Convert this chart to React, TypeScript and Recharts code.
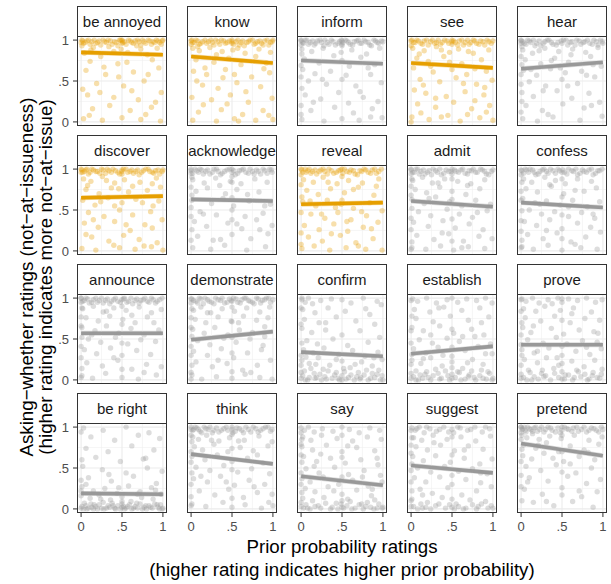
import React from 'react';
import { ComposedChart, Scatter, Line, Area, XAxis, YAxis, ReferenceLine } from 'recharts';

const FONT = '"Liberation Sans", Arial, Helvetica, sans-serif';
const ORANGE = '#E69F00';
const GREY = '#999999';

// facet order (row by row)
const predicates = [
    'be annoyed', 'know', 'inform', 'see', 'hear',
    'discover', 'acknowledge', 'reveal', 'admit', 'confess',
    'announce', 'demonstrate', 'confirm', 'establish', 'prove',
    'be right', 'think', 'say', 'suggest', 'pretend',
];
const factive = ['be annoyed', 'know', 'see', 'discover', 'reveal'];

// fitted line at prior = 0 and prior = 1
const fitAt0 = [0.85, 0.80, 0.75, 0.72, 0.65, 0.65, 0.63, 0.57, 0.61, 0.59, 0.57, 0.49, 0.34, 0.32, 0.43, 0.19, 0.67, 0.40, 0.53, 0.80];
const fitAt1 = [0.82, 0.72, 0.71, 0.66, 0.73, 0.67, 0.61, 0.59, 0.54, 0.53, 0.57, 0.59, 0.29, 0.41, 0.43, 0.18, 0.55, 0.29, 0.44, 0.65];
const ciHalf = 0.03;

const yTicks = [0, 0.5, 1];
const xTicks = [0, 0.5, 1];
const tickText = (v: number) => (v === 0 ? '0' : v === 1 ? '1' : '.5');

// ratings in percent, flat pairs: prior, asking-whether
const ptsBeAnnoyed = [2,99, 5,97, 9,100, 13,98, 18,96, 22,99, 27,100, 31,97, 36,99, 41,98, 47,100, 50,99, 50,96, 53,98, 58,100, 62,97, 66,99, 71,98, 75,100, 79,96, 84,99, 88,98, 92,100, 96,97, 99,99, 1,93, 15,91, 34,92, 49,89, 68,93, 93,90, 4,84, 24,80, 57,85, 81,82, 11,74, 45,71, 87,76, 6,63, 30,58, 64,61, 95,66, 19,47, 52,44, 77,50, 8,33, 40,30, 70,27, 98,36, 14,16, 35,20, 60,14, 86,18, 3,4, 26,2, 50,5, 73,3, 97,1,
    3,96, 7,99, 11,95, 16,100, 20,97, 24,94, 29,98, 33,100, 38,95, 43,97, 45,93, 48,100, 51,97, 55,95, 60,99, 64,96, 69,100, 73,94, 77,98, 82,100, 86,95, 90,97, 94,99, 98,95, 0,97, 1,100, 100,100, 50,100, 12,88, 40,86, 73,89, 28,67, 56,73, 82,58, 2,40, 46,55, 91,24, 23,36, 62,38, 10,8, 79,9];
const ptsKnow = [1,100, 4,97, 8,99, 12,96, 17,100, 21,98, 26,97, 30,100, 35,95, 40,99, 44,97, 50,100, 50,96, 55,98, 59,94, 63,99, 68,97, 72,100, 77,95, 81,98, 86,96, 90,99, 95,94, 99,98, 2,90, 10,87, 23,91, 38,86, 51,88, 66,84, 83,89, 97,85, 6,76, 28,73, 46,78, 61,70, 92,72, 3,62, 19,58, 42,64, 74,55, 96,60, 14,45, 33,41, 56,48, 85,43, 1,30, 25,27, 48,33, 70,24, 99,29, 9,12, 37,15, 63,9, 88,14, 2,2, 31,1, 53,4, 79,2, 100,3,
    2,97, 6,100, 10,95, 14,98, 19,96, 24,100, 28,94, 33,98, 37,100, 42,96, 47,99, 52,95, 57,100, 61,97, 65,93, 70,98, 75,100, 79,96, 84,99, 88,94, 93,100, 97,97, 0,99, 0,95, 50,98, 100,100, 8,92, 31,82, 57,90, 79,80, 17,66, 53,58, 89,65, 7,50, 39,54, 67,37, 15,21, 44,22, 95,8, 58,1];
const ptsInform = [0,99, 3,96, 7,100, 11,97, 16,94, 20,99, 25,97, 29,100, 34,95, 39,98, 45,96, 49,100, 51,97, 50,93, 56,99, 60,95, 65,98, 70,100, 74,96, 79,98, 84,94, 89,100, 93,97, 98,99, 1,89, 13,86, 27,90, 49,85, 62,88, 80,83, 96,90, 4,77, 22,72, 50,75, 73,79, 90,70, 2,64, 17,59, 36,62, 55,57, 82,66, 9,50, 31,46, 50,52, 67,44, 98,48, 5,33, 24,28, 46,36, 76,30, 94,25, 12,14, 41,18, 64,11, 87,16, 1,3, 28,1, 50,4, 71,2, 99,5,
    2,97, 5,100, 9,95, 14,99, 18,96, 23,100, 28,93, 32,97, 37,100, 42,94, 47,98, 50,99, 50,95, 54,100, 58,97, 63,94, 68,99, 72,96, 77,100, 82,97, 86,93, 91,99, 95,96, 100,98, 0,100, 0,94, 1,83, 0,69, 0,55, 1,41, 0,20, 0,9, 40,81, 59,68, 85,58, 26,52, 72,37, 15,24, 58,23, 85,6];
const ptsSee = [1,100, 5,97, 9,99, 14,95, 19,100, 24,98, 29,96, 33,100, 38,97, 44,99, 50,100, 50,95, 54,97, 59,99, 64,94, 69,100, 73,97, 78,99, 83,95, 88,98, 93,100, 98,96, 2,90, 16,87, 31,92, 47,85, 58,89, 76,84, 95,88, 7,78, 21,74, 40,80, 62,71, 86,76, 3,66, 27,61, 50,64, 68,58, 92,62, 11,52, 35,49, 55,54, 80,46, 99,51, 4,39, 18,35, 43,31, 66,37, 89,33, 8,22, 30,18, 52,24, 74,16, 96,20, 1,6, 22,3, 45,8, 60,1, 84,5, 100,2,
    3,97, 7,100, 12,96, 16,99, 21,94, 26,100, 31,97, 36,95, 41,100, 46,96, 52,99, 57,94, 62,100, 66,97, 71,95, 76,100, 80,96, 85,99, 90,94, 95,98, 0,99, 0,93, 100,99, 50,98, 10,83, 37,88, 70,86, 24,68, 47,73, 78,65, 15,45, 64,47, 90,42, 30,29, 78,26, 12,11, 37,6, 69,9, 92,12, 0,0];
const ptsHear = [0,99, 4,96, 8,100, 12,97, 17,93, 22,99, 27,96, 32,100, 37,97, 43,94, 49,99, 50,96, 55,100, 60,97, 66,94, 71,99, 76,97, 81,100, 87,95, 92,98, 97,100, 100,96, 2,88, 14,84, 29,90, 46,86, 63,89, 79,85, 94,91, 5,76, 24,71, 41,78, 58,73, 85,80, 3,63, 19,57, 36,65, 54,60, 74,62, 98,68, 10,49, 30,44, 50,52, 69,47, 90,55, 1,36, 15,31, 44,38, 62,29, 83,35, 6,20, 26,14, 51,22, 77,17, 96,24, 2,4, 20,1, 39,6, 72,2, 99,7,
    2,98, 6,95, 10,99, 15,100, 19,96, 24,93, 29,98, 34,100, 39,95, 45,97, 52,100, 57,94, 62,98, 68,100, 73,95, 78,98, 84,96, 89,100, 94,94, 99,98, 0,100, 0,96, 1,92, 0,80, 1,70, 0,58, 0,46, 1,25, 0,12, 22,87, 37,75, 61,82, 88,70, 12,64, 48,66, 80,57, 27,38, 57,44, 86,20, 33,9];
const ptsDiscover = [1,99, 4,97, 7,100, 11,96, 15,99, 20,97, 25,100, 30,95, 34,98, 39,100, 45,96, 50,99, 50,94, 55,100, 60,97, 64,95, 69,99, 74,96, 79,100, 84,97, 89,95, 94,99, 99,97, 3,88, 12,85, 26,91, 41,83, 53,87, 72,84, 92,89, 6,75, 22,70, 37,77, 58,72, 81,74, 97,78, 2,62, 17,56, 33,65, 50,59, 67,63, 88,55, 9,47, 28,42, 47,50, 63,44, 85,48, 4,34, 21,29, 41,36, 60,25, 78,32, 99,38, 13,17, 34,12, 52,19, 71,14, 93,10, 1,3, 18,1, 47,4, 66,2, 86,5, 100,1,
    2,96, 6,99, 9,94, 13,100, 18,97, 23,95, 27,99, 32,100, 37,96, 42,98, 47,94, 52,100, 57,96, 62,99, 67,97, 71,93, 76,98, 82,100, 87,96, 91,98, 96,94, 0,100, 0,96, 100,99, 50,97, 8,80, 31,86, 46,76, 63,79, 87,82, 24,60, 41,55, 75,59, 95,61, 15,38, 55,32, 87,28, 6,20, 40,7, 77,6];
const ptsAcknowledge = [0,98, 5,100, 9,96, 13,99, 18,97, 23,94, 28,100, 33,97, 38,95, 44,99, 50,100, 50,96, 54,93, 59,98, 64,100, 70,95, 75,97, 80,99, 85,94, 90,98, 96,100, 99,96, 2,87, 16,83, 30,89, 48,85, 61,82, 78,88, 93,84, 6,73, 20,77, 42,70, 56,75, 83,72, 1,62, 25,58, 39,64, 52,55, 71,61, 97,57, 11,48, 31,44, 50,50, 66,42, 88,46, 4,36, 19,30, 45,34, 62,27, 80,38, 99,31, 8,18, 27,13, 50,20, 73,15, 94,21, 2,4, 24,2, 41,7, 68,1, 91,5,
    2,95, 7,98, 11,100, 15,94, 20,99, 26,96, 31,100, 36,93, 41,97, 47,100, 52,98, 57,95, 62,99, 67,96, 72,100, 77,94, 82,97, 88,100, 93,95, 98,99, 0,100, 0,95, 1,90, 0,78, 1,68, 0,53, 0,42, 1,26, 0,13, 50,91, 50,84, 50,65, 50,38, 35,80, 69,69, 90,55, 15,45, 56,33, 84,26, 36,14];
const ptsReveal = [1,99, 6,96, 10,100, 14,97, 19,94, 24,99, 29,97, 34,100, 40,95, 46,98, 50,100, 51,95, 56,97, 61,99, 66,94, 72,98, 77,100, 82,96, 87,99, 92,95, 98,100, 3,87, 15,84, 27,90, 44,82, 58,86, 75,83, 95,88, 7,74, 21,69, 36,76, 53,71, 70,78, 89,68, 2,60, 18,55, 32,62, 49,57, 64,52, 84,59, 12,45, 29,40, 45,47, 61,38, 80,43, 99,49, 4,31, 22,26, 40,33, 57,24, 76,29, 94,35, 9,17, 26,12, 48,19, 67,10, 88,15, 1,3, 16,6, 35,1, 55,4, 79,2, 99,1,
    2,96, 5,100, 8,98, 12,95, 17,99, 22,97, 27,100, 32,94, 37,98, 43,96, 48,99, 53,100, 59,96, 64,98, 69,93, 74,97, 79,99, 85,95, 90,100, 95,97, 0,100, 0,93, 0,81, 1,66, 0,47, 0,22, 0,8, 50,91, 50,62, 33,84, 64,75, 92,79, 11,61, 42,53, 74,48, 25,45, 56,36, 86,27, 37,21, 70,6];
const ptsAdmit = [0,99, 4,96, 8,100, 12,97, 17,94, 22,98, 27,100, 32,96, 37,93, 43,99, 49,97, 50,100, 50,94, 55,97, 61,99, 66,95, 71,98, 76,100, 81,96, 87,99, 92,94, 98,97, 2,86, 14,90, 26,83, 41,88, 57,85, 73,82, 90,87, 5,75, 19,71, 35,78, 50,73, 67,69, 84,76, 1,63, 16,58, 30,66, 47,60, 62,55, 79,62, 97,57, 9,48, 24,43, 44,51, 59,45, 75,41, 93,49, 3,35, 21,30, 39,37, 54,28, 71,33, 88,26, 7,19, 28,14, 46,21, 64,12, 83,18, 99,15, 1,4, 18,2, 36,6, 52,1, 70,5, 90,3,
    2,96, 6,100, 10,94, 15,99, 20,96, 25,93, 30,98, 35,100, 40,95, 46,97, 53,99, 58,96, 63,100, 69,94, 74,98, 79,96, 85,100, 90,97, 95,93, 100,99, 0,100, 0,94, 1,88, 0,79, 0,68, 1,52, 0,40, 0,26, 1,11, 0,2, 50,88, 50,63, 50,39, 50,12, 33,83, 69,80, 22,64, 81,47, 38,22, 62,4];
const ptsConfess = [1,98, 5,100, 9,96, 14,99, 18,93, 23,97, 28,100, 33,95, 39,98, 45,100, 50,96, 51,99, 56,94, 62,98, 67,100, 72,95, 77,97, 83,99, 88,93, 94,98, 99,100, 3,88, 13,84, 29,90, 42,86, 54,82, 69,88, 86,85, 6,76, 20,72, 37,79, 52,70, 66,74, 92,77, 2,64, 17,59, 31,61, 48,56, 63,62, 81,54, 96,60, 10,50, 25,45, 41,48, 58,42, 74,47, 90,40, 4,36, 19,31, 35,38, 50,27, 69,34, 85,29, 8,20, 27,15, 44,22, 61,11, 79,17, 97,23, 1,5, 15,2, 33,7, 50,1, 73,4, 93,2,
    3,95, 7,99, 11,100, 16,96, 21,94, 26,99, 31,97, 36,100, 42,95, 47,98, 53,96, 58,100, 64,97, 69,93, 75,99, 80,96, 86,100, 91,95, 96,98, 0,99, 0,93, 1,84, 0,73, 0,62, 1,49, 0,37, 0,24, 1,13, 0,4, 50,88, 50,66, 50,44, 50,15, 35,81, 77,73, 23,57, 58,54, 88,45, 31,25, 66,8];
const ptsAnnounce = [0,100, 4,97, 8,99, 13,95, 18,100, 22,97, 27,94, 32,99, 37,96, 42,100, 48,95, 50,98, 53,100, 58,96, 63,93, 68,99, 73,97, 78,100, 83,95, 88,98, 93,96, 99,100, 2,87, 15,90, 27,83, 40,88, 55,85, 71,89, 86,82, 98,86, 6,76, 21,72, 35,78, 51,74, 66,70, 81,77, 1,64, 17,60, 31,66, 46,57, 61,63, 77,55, 95,61, 9,50, 24,46, 42,52, 57,44, 73,49, 91,47, 4,37, 19,32, 36,39, 50,30, 68,36, 85,31, 7,21, 26,17, 45,24, 62,13, 80,19, 98,16, 1,5, 14,2, 30,8, 50,3, 70,1, 92,6,
    2,96, 6,100, 10,94, 15,98, 20,95, 25,100, 30,97, 35,93, 40,98, 45,96, 52,99, 56,95, 61,100, 66,97, 71,94, 76,98, 81,96, 86,100, 91,94, 96,98, 0,100, 0,95, 1,88, 0,77, 0,66, 1,52, 0,41, 0,27, 1,14, 0,3, 50,90, 50,68, 50,45, 50,13, 31,84, 62,79, 89,70, 13,55, 40,27, 77,9];
const ptsDemonstrate = [1,99, 6,96, 10,100, 15,93, 20,98, 25,95, 30,100, 36,97, 41,94, 47,99, 50,96, 52,100, 57,95, 62,98, 67,100, 72,96, 77,93, 82,99, 87,97, 92,100, 97,95, 100,98, 3,85, 12,89, 24,82, 38,87, 53,84, 68,88, 84,83, 96,89, 5,74, 18,70, 33,77, 49,72, 64,78, 80,73, 94,76, 2,62, 16,57, 29,64, 45,55, 59,61, 75,58, 90,65, 8,48, 23,43, 40,51, 55,46, 72,50, 88,42, 3,35, 20,30, 37,38, 52,27, 69,33, 86,37, 6,22, 26,16, 44,20, 63,12, 81,18, 97,24, 1,6, 13,1, 31,4, 50,2, 66,7, 84,3, 99,1,
    3,97, 8,94, 12,99, 17,100, 22,96, 28,93, 33,98, 38,100, 44,95, 49,97, 55,99, 60,94, 65,100, 70,97, 75,95, 80,100, 85,94, 90,98, 95,100, 0,99, 0,94, 1,87, 0,76, 0,64, 1,53, 0,41, 0,30, 1,18, 0,9, 0,1, 50,89, 50,71, 50,52, 50,33, 50,10, 20,82, 58,70, 90,53, 33,24, 73,9];
const ptsConfirm = [1,98, 5,95, 9,100, 14,93, 24,97, 37,99, 50,98, 61,94, 76,100, 93,96, 98,92, 2,86, 17,82, 33,88, 54,84, 79,87, 4,74, 22,70, 43,77, 67,72, 90,68, 1,63, 13,58, 30,61, 50,55, 72,60, 96,52, 7,48, 20,44, 39,50, 57,42, 82,46, 3,37, 15,33, 28,39, 46,31, 63,36, 78,29, 94,34, 1,24, 10,20, 21,27, 35,18, 50,23, 60,15, 74,22, 87,17, 99,25, 4,11, 16,8, 27,13, 41,6, 53,10, 68,4, 80,12, 93,7, 0,2, 8,0, 19,3, 31,1, 45,2, 50,0, 58,3, 72,1, 85,2, 97,0,
    0,9, 2,5, 5,0, 10,3, 12,14, 17,2, 23,7, 25,0, 29,4, 33,11, 38,2, 43,9, 47,0, 50,5, 52,14, 55,1, 61,6, 65,0, 70,9, 73,3, 77,6, 82,0, 87,8, 90,3, 95,12, 99,5, 100,0, 0,30, 1,45, 0,18, 0,68, 0,88, 1,100, 6,28, 18,19, 43,25, 66,19, 89,27, 30,70, 84,80];
const ptsEstablish = [2,99, 8,96, 19,100, 31,94, 44,98, 50,100, 57,95, 68,99, 80,97, 91,100, 99,94, 4,86, 23,83, 40,89, 62,85, 84,88, 6,75, 27,71, 48,78, 70,73, 95,77, 1,64, 15,60, 35,66, 52,57, 74,62, 89,55, 10,49, 26,45, 44,51, 59,47, 78,53, 97,44, 3,38, 18,33, 33,40, 50,29, 66,36, 82,41, 99,32, 1,24, 12,20, 24,27, 38,17, 50,22, 63,14, 75,25, 88,19, 6,11, 17,7, 30,13, 45,5, 57,10, 71,6, 86,12, 96,8, 0,2, 9,0, 21,3, 35,1, 50,2, 61,0, 77,3, 92,1, 100,2,
    0,8, 3,4, 6,0, 11,6, 14,2, 19,10, 24,0, 27,5, 33,8, 37,2, 42,11, 47,0, 50,7, 54,3, 59,9, 66,1, 70,4, 74,11, 79,0, 84,5, 88,2, 94,10, 99,0, 0,19, 1,31, 0,45, 0,60, 1,78, 0,97, 50,15, 50,40, 50,62, 15,26, 39,30, 69,21, 91,32, 24,55, 63,53, 86,70, 34,88];
const ptsProve = [1,99, 6,96, 14,100, 22,94, 33,98, 45,100, 50,95, 58,99, 69,97, 80,100, 91,95, 99,98, 3,87, 18,84, 29,90, 48,85, 64,88, 86,83, 5,76, 24,72, 41,78, 60,70, 78,75, 96,73, 2,64, 12,58, 37,63, 52,56, 71,61, 89,59, 8,49, 27,45, 43,52, 56,44, 75,48, 93,46, 1,37, 16,33, 34,39, 50,30, 67,35, 84,31, 98,38, 4,25, 20,21, 31,27, 46,18, 62,23, 77,16, 90,24, 9,12, 25,8, 40,14, 54,6, 70,10, 87,5, 99,13, 0,2, 13,0, 28,4, 50,1, 65,3, 81,0, 96,2,
    0,7, 3,3, 7,0, 11,9, 16,4, 21,1, 26,12, 30,5, 36,0, 41,8, 46,3, 50,10, 53,1, 58,6, 63,0, 68,12, 73,4, 78,7, 83,1, 88,9, 93,3, 98,7, 0,18, 1,30, 0,43, 0,55, 1,70, 0,84, 0,98, 50,20, 50,41, 50,73, 50,99, 20,35, 44,27, 80,40, 15,66, 62,81, 94,57, 38,93];
const ptsBeRight = [3,99, 27,96, 55,100, 83,93, 12,88, 41,84, 70,90, 96,86, 6,74, 33,70, 62,77, 89,72, 18,63, 48,58, 76,61, 2,52, 26,48, 55,44, 81,50, 99,46, 9,38, 37,34, 64,40, 92,31, 1,27, 15,22, 29,25, 44,19, 58,28, 72,21, 86,26, 0,16, 11,13, 22,17, 36,11, 50,15, 61,9, 74,14, 88,12, 98,18, 4,7, 16,5, 27,8, 39,4, 50,6, 57,3, 68,7, 79,4, 93,5, 0,1, 7,0, 13,2, 20,0, 31,1, 42,0, 50,2, 53,0, 64,1, 75,0, 85,2, 96,0, 100,1,
    1,3, 3,0, 6,4, 9,1, 12,6, 15,0, 18,3, 22,5, 25,1, 28,0, 33,4, 35,2, 38,7, 41,1, 45,4, 48,0, 50,9, 52,3, 55,1, 59,5, 62,0, 66,3, 69,1, 72,6, 77,2, 80,0, 83,4, 87,1, 90,6, 94,2, 97,5, 99,0, 0,22, 0,35, 1,60, 0,94, 6,30, 24,12, 46,26, 69,18, 91,23, 34,42, 79,62];
const ptsThink = [0,100, 3,97, 7,99, 11,95, 16,100, 21,97, 26,93, 31,99, 37,96, 43,100, 50,97, 51,93, 56,99, 62,96, 67,100, 73,94, 79,98, 85,96, 91,100, 97,95, 2,88, 9,85, 19,90, 34,83, 47,87, 65,84, 83,89, 99,82, 4,76, 14,72, 28,79, 45,70, 60,75, 76,71, 94,77, 1,64, 17,60, 32,66, 50,58, 69,62, 88,56, 6,51, 23,47, 40,53, 57,45, 74,49, 96,43, 3,37, 20,33, 36,40, 53,29, 71,35, 90,30, 10,22, 29,17, 46,24, 64,14, 81,20, 99,18, 1,6, 18,3, 39,8, 50,2, 66,5, 86,1, 100,4,
    2,96, 5,100, 9,97, 13,93, 18,98, 23,100, 28,96, 34,94, 40,98, 45,96, 50,100, 50,91, 54,95, 59,98, 64,93, 70,97, 76,100, 82,94, 88,98, 94,100, 99,97, 0,97, 0,90, 1,82, 0,70, 0,57, 1,44, 0,30, 0,15, 0,4, 50,74, 50,48, 50,13, 25,84, 58,83, 81,66, 12,40, 43,33, 77,27, 95,8];
const ptsSay = [0,99, 4,96, 9,100, 16,94, 26,98, 39,95, 50,100, 59,97, 71,93, 84,99, 96,96, 2,88, 12,84, 25,90, 44,86, 63,83, 81,88, 98,85, 1,76, 14,72, 31,78, 50,70, 68,75, 90,71, 3,64, 19,58, 36,62, 54,56, 73,60, 94,54, 6,49, 22,44, 41,51, 58,42, 77,47, 97,41, 1,37, 11,33, 27,39, 46,30, 63,35, 82,28, 99,33, 5,25, 17,21, 33,27, 50,18, 68,23, 86,16, 2,13, 14,10, 28,14, 43,7, 57,12, 74,6, 90,11, 0,3, 8,1, 21,4, 36,0, 50,2, 62,0, 79,3, 93,1, 100,2,
    0,93, 1,85, 0,79, 0,66, 1,57, 0,44, 0,30, 1,20, 0,8, 3,1, 6,5, 11,0, 17,3, 24,1, 30,7, 38,2, 45,0, 49,6, 52,1, 56,4, 60,9, 66,1, 71,5, 76,0, 81,8, 85,2, 89,0, 95,6, 99,1, 50,90, 50,63, 50,39, 50,10, 24,67, 57,77, 75,39, 93,62, 16,52, 40,22, 87,24];
const ptsSuggest = [1,99, 5,96, 10,100, 16,93, 23,98, 31,95, 40,100, 50,97, 52,93, 60,99, 69,96, 78,100, 87,94, 96,98, 3,87, 13,84, 27,90, 44,85, 61,88, 79,83, 97,89, 6,76, 20,72, 36,78, 53,71, 70,77, 88,73, 2,64, 15,59, 30,65, 48,57, 65,62, 84,55, 99,61, 8,50, 24,45, 41,52, 58,46, 75,49, 93,43, 4,38, 18,33, 35,39, 50,30, 67,36, 85,32, 11,24, 26,19, 45,26, 62,17, 80,22, 98,27, 1,12, 20,8, 38,14, 55,6, 72,11, 91,9, 0,3, 14,1, 30,4, 50,2, 64,0, 82,3, 100,1,
    0,96, 1,87, 0,78, 0,68, 1,55, 0,47, 0,33, 1,22, 0,10, 3,3, 8,0, 12,6, 18,2, 24,0, 34,6, 42,1, 47,5, 53,0, 58,3, 67,1, 75,5, 80,0, 86,6, 94,1, 98,4, 7,98, 19,100, 35,97, 46,94, 57,100, 73,97, 91,100, 50,88, 50,66, 50,41, 50,12, 28,81, 65,72, 85,44, 14,17];
const ptsPretend = [0,100, 2,98, 5,96, 8,100, 12,97, 16,99, 20,95, 25,100, 30,97, 36,99, 42,94, 50,100, 50,96, 56,98, 62,95, 68,100, 74,97, 80,94, 86,99, 92,96, 98,100, 1,90, 7,87, 14,92, 22,85, 35,89, 49,86, 65,90, 83,84, 99,88, 3,78, 18,74, 31,81, 46,70, 60,77, 77,72, 95,79, 2,65, 13,61, 28,68, 52,58, 71,64, 90,60, 6,52, 24,47, 43,54, 67,44, 86,50, 10,38, 33,34, 57,40, 80,31, 97,36, 4,24, 26,18, 50,26, 74,15, 93,21, 15,8, 40,4, 63,9, 88,2,
    1,97, 4,100, 6,94, 10,98, 14,95, 18,100, 23,97, 28,94, 33,100, 38,96, 45,99, 48,93, 53,100, 58,97, 64,99, 70,95, 77,100, 83,96, 89,98, 95,94, 100,97, 0,100, 0,93, 0,85, 1,73, 0,58, 0,41, 0,27, 1,10, 50,90, 50,70, 50,45, 50,17, 21,78, 39,62, 60,55, 82,69, 8,33, 31,9, 71,22];

const pointSets = [
    ptsBeAnnoyed, ptsKnow, ptsInform, ptsSee, ptsHear,
    ptsDiscover, ptsAcknowledge, ptsReveal, ptsAdmit, ptsConfess,
    ptsAnnounce, ptsDemonstrate, ptsConfirm, ptsEstablish, ptsProve,
    ptsBeRight, ptsThink, ptsSay, ptsSuggest, ptsPretend,
];

const toPoints = (flat: number[]) => {
    const out: { x: number; y: number }[] = [];
    for (let i = 0; i < flat.length; i += 2) out.push({ x: flat[i] / 100, y: flat[i + 1] / 100 });
    return out;
};

// layout
const COL_X = [77, 187, 297, 407, 517];
const ROW_Y = [6, 135, 264, 393];
const STRIP_H = 30;
const PW = 90;
const PH = 90;
const Y_AXIS_W = 40;
const X_AXIS_H = 30;
const PAD = 8; // room above/below so edge tick labels are not clipped
const DOMAIN: [number, number] = [-0.05, 1.05];

const tickStyle = { fill: '#4d4d4d', fontSize: 13, fontFamily: FONT };

const Panel: React.FC<{ idx: number }> = ({ idx }) => {
    const row = Math.floor(idx / 5);
    const col = idx % 5;
    const name = predicates[idx];
    const color = factive.includes(name) ? ORANGE : GREY;
    const showY = col === 0;
    const showX = row === 3;
    const yw = showY ? Y_AXIS_W : 0;
    const xh = showX ? X_AXIS_H : 0;
    const padBottom = showX ? 0 : PAD;
    const left = COL_X[col];
    const top = ROW_Y[row] + STRIP_H;

    const fit = [
        { x: 0, fit: fitAt0[idx], band: [fitAt0[idx] - ciHalf, fitAt0[idx] + ciHalf] },
        { x: 1, fit: fitAt1[idx], band: [fitAt1[idx] - ciHalf, fitAt1[idx] + ciHalf] },
    ];
    const pts = toPoints(pointSets[idx]);

    return (
        <>
            <div style={{
                position: 'absolute', left, top: ROW_Y[row], width: PW, height: STRIP_H + 1,
                boxSizing: 'border-box', border: '1px solid #333', background: '#fff',
                display: 'flex', alignItems: 'center', justifyContent: 'center',
                fontFamily: FONT, fontSize: 15, color: '#1a1a1a', whiteSpace: 'nowrap', overflow: 'visible',
            }}>
                {name}
            </div>
            <div style={{ position: 'absolute', left: left - yw, top: top - PAD }}>
                <ComposedChart width={PW + yw} height={PH + xh + PAD + padBottom} data={fit}
                    margin={{ top: PAD, right: 0, bottom: padBottom, left: 0 }}>
                    <XAxis type="number" dataKey="x" domain={DOMAIN} ticks={xTicks} tickFormatter={tickText}
                        hide={!showX} height={X_AXIS_H} axisLine={false} tickSize={4} tickMargin={5}
                        tickLine={{ stroke: '#333' }} tick={tickStyle} allowDataOverflow interval={0} />
                    <YAxis type="number" domain={DOMAIN} ticks={yTicks} tickFormatter={tickText}
                        hide={!showY} width={Y_AXIS_W} axisLine={false} tickSize={4} tickMargin={4}
                        tickLine={{ stroke: '#333' }} tick={tickStyle} allowDataOverflow interval={0} />
                    {[0.25, 0.75].map(v => <ReferenceLine key={'mx' + v} x={v} stroke="#f0f0f0" strokeWidth={0.6} />)}
                    {[0.25, 0.75].map(v => <ReferenceLine key={'my' + v} y={v} stroke="#f0f0f0" strokeWidth={0.6} />)}
                    {[0, 0.5, 1].map(v => <ReferenceLine key={'x' + v} x={v} stroke="#ebebeb" strokeWidth={1.1} />)}
                    {[0, 0.5, 1].map(v => <ReferenceLine key={'y' + v} y={v} stroke="#ebebeb" strokeWidth={1.1} />)}
                    <Scatter data={pts} dataKey="y" isAnimationActive={false}
                        shape={(p: any) => <circle cx={p.cx} cy={p.cy} r={2.7} fill={color} fillOpacity={0.33} />} />
                    <Area type="linear" dataKey="band" stroke="none" fill={color} fillOpacity={0.35} isAnimationActive={false} />
                    <Line type="linear" dataKey="fit" stroke={color} strokeWidth={3.6} dot={false} isAnimationActive={false} />
                </ComposedChart>
            </div>
            <div style={{
                position: 'absolute', left, top, width: PW, height: PH,
                boxSizing: 'border-box', border: '1px solid #333', pointerEvents: 'none',
            }} />
        </>
    );
};

const App: React.FC = () => {
    return (
        <div style={{ position: 'absolute', left: 0, top: 0, width: 611, height: 584, background: '#fff', fontFamily: FONT }}>
            <svg width={611} height={584} style={{ position: 'absolute', left: 0, top: 0 }}>
                <text x={342} y={553} textAnchor="middle" fontSize={18.7} fill="#000" fontFamily={FONT}>
                    Prior probability ratings
                </text>
                <text x={342} y={576} textAnchor="middle" fontSize={18.7} fill="#000" fontFamily={FONT}>
                    (higher rating indicates higher prior probability)
                </text>
                <g transform="translate(33,277) rotate(-90)">
                    <text x={0} y={0} textAnchor="middle" fontSize={18.7} fill="#000" fontFamily={FONT}>
                        Asking−whether ratings (not−at−issueness)
                    </text>
                </g>
                <g transform="translate(52,277) rotate(-90)">
                    <text x={0} y={0} textAnchor="middle" fontSize={18.7} fill="#000" fontFamily={FONT}>
                        (higher rating indicates more not−at−issue)
                    </text>
                </g>
            </svg>
            {predicates.map((_, i) => <Panel key={i} idx={i} />)}
        </div>
    );
};

export default App;
